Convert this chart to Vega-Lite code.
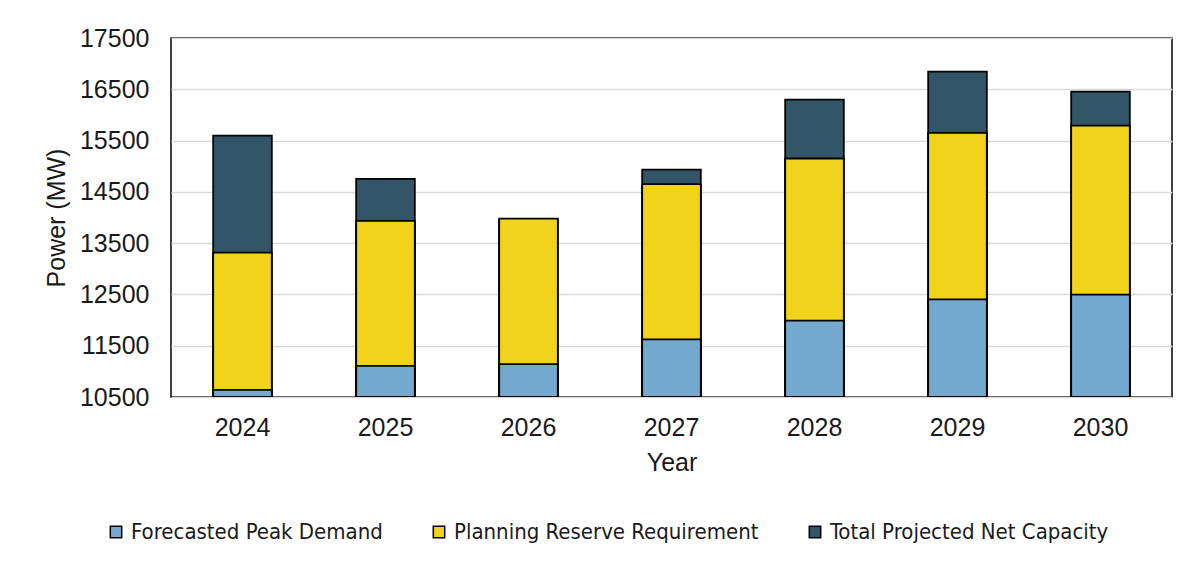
{
  "$schema": "https://vega.github.io/schema/vega-lite/v6.json",
  "width": 1001,
  "height": 359,
  "autosize": {"type": "none"},
  "padding": {"left": 171, "top": 38, "right": 15, "bottom": 168},
  "background": "white",
  "config": {
    "view": {"stroke": "black", "strokeWidth": 1.5},
    "font": "Liberation Sans"
  },
  "data": {
    "values": [
      {"year": "2024", "series": "Total Projected Net Capacity", "value": 15595},
      {"year": "2025", "series": "Total Projected Net Capacity", "value": 14755},
      {"year": "2026", "series": "Total Projected Net Capacity", "value": 13950},
      {"year": "2027", "series": "Total Projected Net Capacity", "value": 14935},
      {"year": "2028", "series": "Total Projected Net Capacity", "value": 16300},
      {"year": "2029", "series": "Total Projected Net Capacity", "value": 16845},
      {"year": "2030", "series": "Total Projected Net Capacity", "value": 16455},
      {"year": "2024", "series": "Planning Reserve Requirement", "value": 13315},
      {"year": "2025", "series": "Planning Reserve Requirement", "value": 13935},
      {"year": "2026", "series": "Planning Reserve Requirement", "value": 13980},
      {"year": "2027", "series": "Planning Reserve Requirement", "value": 14650},
      {"year": "2028", "series": "Planning Reserve Requirement", "value": 15150},
      {"year": "2029", "series": "Planning Reserve Requirement", "value": 15650},
      {"year": "2030", "series": "Planning Reserve Requirement", "value": 15790},
      {"year": "2024", "series": "Forecasted Peak Demand", "value": 10640},
      {"year": "2025", "series": "Forecasted Peak Demand", "value": 11105},
      {"year": "2026", "series": "Forecasted Peak Demand", "value": 11140},
      {"year": "2027", "series": "Forecasted Peak Demand", "value": 11625},
      {"year": "2028", "series": "Forecasted Peak Demand", "value": 11990},
      {"year": "2029", "series": "Forecasted Peak Demand", "value": 12405},
      {"year": "2030", "series": "Forecasted Peak Demand", "value": 12495}
    ]
  },
  "mark": {"type": "bar", "stroke": "black", "strokeWidth": 1.8, "clip": true},
  "encoding": {
    "x": {
      "field": "year",
      "type": "ordinal",
      "scale": {"paddingInner": 0.59, "paddingOuter": 0.295},
      "axis": {
        "title": "Year",
        "labelAngle": 0,
        "labelFontSize": 25,
        "labelColor": "#1a1a1a",
        "labelPadding": 18,
        "ticks": false,
        "domain": false,
        "titleFontSize": 25,
        "titleFontWeight": "normal",
        "titleColor": "#1a1a1a",
        "titlePadding": 10
      }
    },
    "y": {
      "field": "value",
      "type": "quantitative",
      "stack": null,
      "scale": {"domain": [10500, 17500], "zero": false, "nice": false},
      "axis": {
        "title": "Power (MW)",
        "values": [10500, 11500, 12500, 13500, 14500, 15500, 16500, 17500],
        "format": "d",
        "labelFontSize": 25,
        "labelColor": "#1a1a1a",
        "labelPadding": 22,
        "ticks": false,
        "domain": false,
        "gridColor": "#d9d9d9",
        "gridWidth": 1.5,
        "titleFontSize": 25,
        "titleFontWeight": "normal",
        "titleColor": "#1a1a1a",
        "titlePadding": 10
      }
    },
    "color": {
      "field": "series",
      "type": "nominal",
      "scale": {
        "domain": ["Forecasted Peak Demand", "Planning Reserve Requirement", "Total Projected Net Capacity"],
        "range": ["#74a9cf", "#f2d31b", "#325667"]
      },
      "legend": {
        "title": null,
        "orient": "none",
        "direction": "horizontal",
        "legendX": -66,
        "legendY": 483,
        "symbolType": "square",
        "symbolSize": 130,
        "symbolStrokeColor": "black",
        "symbolStrokeWidth": 1.5,
        "symbolOpacity": 1,
        "labelFont": "DejaVu Sans Condensed, Liberation Sans",
        "labelFontSize": 22,
        "labelColor": "#1a1a1a",
        "labelOffset": 4,
        "columnPadding": 45,
        "labelLimit": 400
      }
    },
    "order": {"field": "series", "sort": "descending"}
  }
}
